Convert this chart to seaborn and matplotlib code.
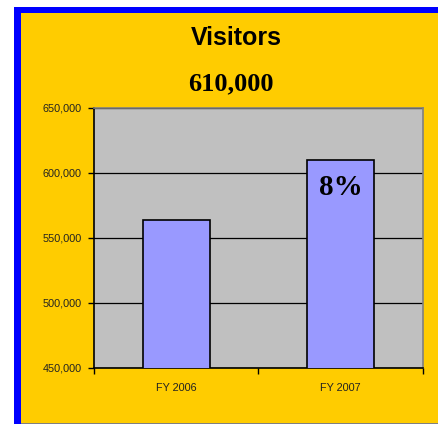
import matplotlib
matplotlib.use("Agg")
import matplotlib.pyplot as plt
import matplotlib.ticker as mticker
from matplotlib.patches import Rectangle
import pandas as pd
import seaborn as sns

# ── Data ─────────────────────────────────────────────────────
years = ["FY 2006", "FY 2007"]
visitors = [564000, 610000]
headline = "610,000"
growth_label = "8%"

df = pd.DataFrame({"year": years, "visitors": visitors})

# ── Figure / frame ───────────────────────────────────────────
W, H = 439, 424
fig = plt.figure(figsize=(W / 100, H / 100), dpi=100)
fig.patch.set_facecolor("white")

# blue frame, yellow panel, thin grey bottom line
fig.patches.append(Rectangle((14 / W, 0), 1, 1 - 7 / H, transform=fig.transFigure,
                             facecolor="#0000FF", edgecolor="none", zorder=-10))
fig.patches.append(Rectangle((21 / W, 0), 1, 1 - 13 / H, transform=fig.transFigure,
                             facecolor="#FFCC00", edgecolor="none", zorder=-9))
fig.patches.append(Rectangle((21 / W, 0), 1, 1.5 / H, transform=fig.transFigure,
                             facecolor="#808080", edgecolor="none", zorder=-8))

# plot area in pixels: x 94..423, y 108..368
ax = fig.add_axes([94 / W, 1 - 368 / H, (423 - 94) / W, (368 - 108) / H])
ax.set_facecolor("#C0C0C0")

sns.barplot(data=df, x="year", y="visitors", ax=ax, color="#9999FF",
            width=0.41, edgecolor="black", linewidth=1.2, saturation=1, zorder=3)

ax.set_ylim(450000, 650000)
ax.set_xlim(-0.5, 1.5)
ax.set_yticks([450000, 500000, 550000, 600000, 650000])
ax.yaxis.set_major_formatter(mticker.FuncFormatter(lambda v, p: f"{int(v):,}"))
ax.grid(axis="y", color="black", linewidth=0.9, zorder=1)
ax.set_axisbelow(True)

ax.set_xlabel("")
ax.set_ylabel("")
ax.set_xticks([-0.5, 0.5, 1.5], minor=False)
ax.set_xticklabels([])
ax.set_xticks([0, 1], minor=True)
ax.set_xticklabels(years, minor=True)
ax.tick_params(axis="x", which="major", direction="out", length=4, width=1, color="black")
ax.tick_params(axis="x", which="minor", length=0, pad=11, labelsize=7.8)
ax.tick_params(axis="y", direction="out", length=4, width=1, color="black",
               labelsize=7.8, pad=5)
for lbl in ax.get_xticklabels(minor=True) + ax.get_yticklabels():
    lbl.set_fontfamily("Liberation Sans")
    lbl.set_color("#222222")

for side in ["left", "bottom"]:
    ax.spines[side].set_color("black")
    ax.spines[side].set_linewidth(1.2)
for side in ["top", "right"]:
    ax.spines[side].set_color("#808080")
    ax.spines[side].set_linewidth(1.2)

# growth label inside the FY 2007 bar
ax.text(1, 589000, growth_label, ha="center", va="center", fontsize=21,
        fontweight="bold", fontfamily="Liberation Serif", zorder=5)

# titles
fig.text(236 / W, 1 - 38 / H, "Visitors", ha="center", va="center", fontsize=18,
         fontweight="bold", fontfamily="Liberation Sans")
fig.text(231 / W, 1 - 84 / H, headline, ha="center", va="center", fontsize=19,
         fontweight="bold", fontfamily="Liberation Serif")

fig.savefig("out.png", dpi=100)
